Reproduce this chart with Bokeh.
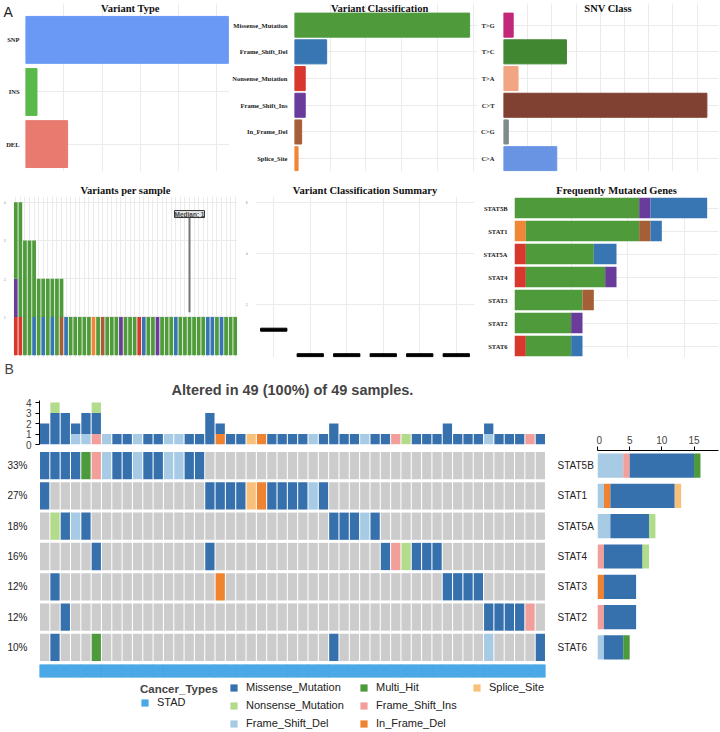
import numpy as np
from bokeh.plotting import figure
from bokeh.models import (Range1d, ColumnDataSource, FixedTicker, Grid, FactorRange,
                          SingleIntervalTicker, Label, Legend, LegendItem, LinearAxis, Title)
from bokeh.core.properties import value
from bokeh.layouts import row, column
from bokeh.embed import file_html
from bokeh.resources import INLINE

SERIF = "Liberation Serif"
SANS = "Liberation Sans"

# ---------------- Panel A data ----------------
vt_types = ["DEL", "INS", "SNP"]
vt_counts = [11, 3, 53]
vt_colors = ["#E87A70", "#5AB94B", "#6999F5"]

vc_classes = ["Splice_Site", "In_Frame_Del", "Frame_Shift_Ins",
              "Nonsense_Mutation", "Frame_Shift_Del", "Missense_Mutation"]
vc_counts = [1, 2, 3, 3, 9, 49]

snv_classes = ["C>A", "C>G", "C>T", "T>A", "T>C", "T>G"]
snv_counts = [11, 1, 42, 3, 13, 2]
snv_colors = ["#6994E4", "#7D8C8A", "#804132", "#F2A582", "#418732", "#C32878"]

A_COLORS = {"Missense_Mutation": "#4F9B3C", "Frame_Shift_Del": "#3776B2",
            "Nonsense_Mutation": "#D7372D", "Frame_Shift_Ins": "#693C9B",
            "In_Frame_Del": "#A55F37", "Splice_Site": "#F08737"}

# variants per sample (sorted samples), one list per class
vps_nonsense = [1,1,0,0,0,0,0,0,0,0, 0,0,0,0,0,0,0,0,0,0, 0,0,0,0,0,0,0,1,0,0,
                0,0,0,0,0,0,0,0,0,0, 0,0,0,0,0,0,0,0,0]
vps_frame_shift_ins = [1,0,0,0,0,0,0,0,0,0, 0,0,0,0,0,0,0,0,0,0, 0,0,0,1,0,0,0,0,0,0,
                       0,1,0,0,0,0,0,0,0,0, 0,0,0,0,0,0,0,0,0]
vps_frame_shift_del = [0,0,0,0,1,0,1,0,1,0, 0,1,0,0,0,0,0,0,0,0, 0,0,0,0,0,0,0,0,1,0,
                       0,0,0,0,0,1,0,0,0,0, 0,0,1,1,0,1,0,0,0]
vps_in_frame_del = [0,0,0,0,0,0,0,0,0,0, 1,0,0,0,0,0,0,0,0,1, 0,0,0,0,0,0,0,0,0,0,
                    0,0,0,0,0,0,0,0,0,0, 0,0,0,0,0,0,0,0,0]
vps_splice_site = [0,0,0,0,0,0,0,0,0,0, 0,0,0,0,0,0,0,1,0,0, 0,0,0,0,0,0,0,0,0,0,
                   0,0,0,0,0,0,0,0,0,0, 0,0,0,0,0,0,0,0,0]
vps_missense = [2,3,3,3,2,2,1,2,1,2, 1,0,1,1,1,1,1,0,1,0, 1,1,1,0,1,1,1,0,0,1,
                1,0,1,1,1,0,1,1,1,1, 1,1,0,0,1,0,1,1,1]

vcs_classes = ["Missense_Mutation", "Frame_Shift_Del", "Nonsense_Mutation",
               "Frame_Shift_Ins", "In_Frame_Del", "Splice_Site"]
vcs_medians = [1, 0, 0, 0, 0, 0]

fmg_genes = ["STAT5B", "STAT1", "STAT5A", "STAT4", "STAT3", "STAT2", "STAT6"]
fmg_splice_site = [0, 1, 0, 0, 0, 0, 0]
fmg_nonsense = [0, 0, 1, 1, 0, 0, 1]
fmg_missense = [11, 10, 6, 7, 6, 5, 4]
fmg_in_frame_del = [0, 1, 0, 0, 1, 0, 0]
fmg_frame_shift_ins = [1, 0, 0, 1, 0, 1, 0]
fmg_frame_shift_del = [5, 1, 2, 0, 0, 0, 1]

# ---------------- Panel B data ----------------
n_samples = 49
genes = ["STAT5B", "STAT1", "STAT5A", "STAT4", "STAT3", "STAT2", "STAT6"]
onco_STAT5B = [(1, "M"), (2, "M"), (3, "M"), (4, "M"), (5, "H"), (6, "I"), (7, "D"), (8, "M"),
               (9, "M"), (10, "D"), (11, "M"), (12, "M"), (13, "D"), (14, "D"), (15, "M"), (16, "M")]
onco_STAT1 = [(1, "M"), (17, "M"), (18, "M"), (19, "M"), (20, "M"), (21, "S"), (22, "F"),
              (23, "M"), (24, "M"), (25, "M"), (26, "M"), (27, "D"), (28, "M")]
onco_STAT5A = [(2, "N"), (3, "M"), (4, "D"), (5, "M"), (29, "M"), (30, "M"), (31, "M"),
               (32, "D"), (33, "M")]
onco_STAT4 = [(6, "M"), (17, "M"), (34, "M"), (35, "I"), (36, "N"), (37, "M"), (38, "M"), (39, "M")]
onco_STAT3 = [(2, "M"), (18, "F"), (40, "M"), (41, "M"), (42, "M"), (43, "M")]
onco_STAT2 = [(3, "M"), (44, "M"), (45, "M"), (46, "M"), (47, "M"), (48, "I")]
onco_STAT6 = [(2, "M"), (6, "H"), (29, "M"), (44, "D"), (49, "M")]
onco = {"STAT5B": onco_STAT5B, "STAT1": onco_STAT1, "STAT5A": onco_STAT5A,
        "STAT4": onco_STAT4, "STAT3": onco_STAT3, "STAT2": onco_STAT2, "STAT6": onco_STAT6}

# variants per sample (top bar), one list per class
tmb_frame_shift_del = [0,0,0,1,1,0,1,0,0,1, 0,0,1,1,0,0,0,0,0,0, 0,0,0,0,0,0,1,0,0,0,
                       0,1,0,0,0,0,0,0,0,0, 0,0,0,1,0,0,0,0,0]
tmb_frame_shift_ins = [0,0,0,0,0,1,0,0,0,0, 0,0,0,0,0,0,0,0,0,0, 0,0,0,0,0,0,0,0,0,0,
                       0,0,0,0,1,0,0,0,0,0, 0,0,0,0,0,0,0,1,0]
tmb_in_frame_del = [0,0,0,0,0,0,0,0,0,0, 0,0,0,0,0,0,0,1,0,0, 0,1,0,0,0,0,0,0,0,0,
                    0,0,0,0,0,0,0,0,0,0, 0,0,0,0,0,0,0,0,0]
tmb_missense = [2,3,3,1,2,2,0,1,1,0, 1,1,0,0,1,1,3,1,1,1, 0,0,1,1,1,1,0,1,2,1,
                1,0,1,1,0,0,1,1,1,2, 1,1,1,1,1,1,1,0,1]
tmb_nonsense = [0,1,0,0,0,1,0,0,0,0, 0,0,0,0,0,0,0,0,0,0, 0,0,0,0,0,0,0,0,0,0,
                0,0,0,0,0,1,0,0,0,0, 0,0,0,0,0,0,0,0,0]
tmb_splice_site = [0,0,0,0,0,0,0,0,0,0, 0,0,0,0,0,0,0,0,0,0, 1,0,0,0,0,0,0,0,0,0,
                   0,0,0,0,0,0,0,0,0,0, 0,0,0,0,0,0,0,0,0]

B_CODES = ["D", "I", "F", "M", "N", "S", "H"]
B_NAMES = {"M": "Missense_Mutation", "N": "Nonsense_Mutation", "D": "Frame_Shift_Del",
           "H": "Multi_Hit", "I": "Frame_Shift_Ins", "F": "In_Frame_Del", "S": "Splice_Site"}
B_COLORS = {"D": "#A7CBE4", "I": "#F29F9B", "F": "#F0832F", "M": "#3671AE",
            "N": "#B3DB8C", "S": "#F8C07B", "H": "#4C9A3C"}
GREY = "#CCCCCC"
STAD_COLOR = "#4AA8E6"
GRID = "#EBEBEB"


# ---------------- helpers ----------------
def mk(box, frame, **kw):
    x0, y0, x1, y1 = box
    fx0, fy0, fx1, fy1 = frame
    return figure(width=x1 - x0, height=y1 - y0,
                  min_border_left=fx0 - x0, min_border_right=x1 - fx1,
                  min_border_top=fy0 - y0, min_border_bottom=y1 - fy1,
                  output_backend="svg", toolbar_location=None, **kw)


def no_title(p):
    p.title.text = ""
    p.title.text_font_size = "0px"
    p.title.standoff = 0
    p.title.visible = False


def add_grid(p, dim, ticker):
    p.add_layout(Grid(dimension=dim, ticker=ticker, grid_line_color=GRID, grid_line_width=1))


def style_a(p, label_size="6.5px", title_size="10.5px"):
    p.outline_line_color = None
    p.grid.grid_line_color = GRID
    p.grid.grid_line_width = 1
    for ax in p.axis:
        ax.axis_line_color = None
        ax.major_tick_line_color = None
        ax.minor_tick_line_color = None
        ax.major_label_text_font = SERIF
        ax.major_label_text_font_style = "bold"
        ax.major_label_text_color = "#1A1A1A"
        ax.major_label_standoff = 2
        ax.major_label_text_font_size = label_size
    p.title.align = "center"
    p.title.text_font = SERIF
    p.title.text_font_style = "bold"
    p.title.text_font_size = title_size
    p.title.text_color = "#111111"
    p.title.standoff = 1


def panel_title(p, x, y, text):
    p.add_layout(Label(x=x, y=y, text=text, text_align="center", text_baseline="middle",
                       text_font=SERIF, text_font_style="bold", text_font_size="10.5px",
                       text_color="#111111"))


def cat_axis(p, labels):
    idx = list(range(len(labels)))
    p.yaxis.ticker = FixedTicker(ticks=idx)
    p.yaxis.major_label_overrides = {i: t for i, t in zip(idx, labels)}


# ---------------- Row A1 ----------------
vt_idx = list(range(len(vt_types)))
vt_yrange = Range1d(-0.526, 2.698)
# left strip: panel letter and the Variant Type category labels
fA = mk((0, 0, 25, 175), (0, 3, 25, 171), x_range=Range1d(0, 25), y_range=vt_yrange,
        x_axis_type=None, y_axis_type=None)
no_title(fA)
fA.outline_line_color = None
fA.text(x=[19] * len(vt_types), y=vt_idx, text=vt_types, text_align="right",
        text_baseline="middle", text_font=value(SERIF), text_font_style="bold",
        text_font_size="6.5px", text_color="#1A1A1A")
fA.add_layout(Label(x=3, y=2.698, text="A", text_align="left", text_baseline="top",
                    text_font=SANS, text_font_size="14px", text_color="#222222"))

fVT = mk((25, 0, 229, 175), (25, 3, 229, 171),
         x_range=Range1d(0, 53.3), y_range=vt_yrange,
         x_axis_type=None, y_axis_type=None)
add_grid(fVT, 0, SingleIntervalTicker(interval=10))
add_grid(fVT, 1, FixedTicker(ticks=vt_idx))
fVT.hbar(y="y", right="v", height=0.9, color="c",
         source=ColumnDataSource(dict(y=vt_idx, v=vt_counts, c=vt_colors)))
style_a(fVT)
no_title(fVT)
panel_title(fVT, 27.4, 2.60, "Variant Type")

vc_idx = list(range(len(vc_classes)))
fVC = mk((229, 0, 478, 175), (281, 3, 477, 171),
         x_range=Range1d(0, 51.2), y_range=Range1d(-0.48, 5.81), x_axis_type=None)
add_grid(fVC, 0, SingleIntervalTicker(interval=10))
fVC.hbar(y="y", right="v", height=0.9, color="c",
         source=ColumnDataSource(dict(y=vc_idx, v=vc_counts,
                                      c=[A_COLORS[k] for k in vc_classes])))
cat_axis(fVC, vc_classes)
style_a(fVC)
no_title(fVC)
fVC.yaxis.major_label_standoff = 1
panel_title(fVC, 23.8, 5.625, "Variant Classification")

snv_idx = list(range(len(snv_classes)))
fSNV = mk((478, 0, 719, 175), (503, 3, 718, 171),
          x_range=Range1d(0, 44.4), y_range=Range1d(-0.48, 5.81), x_axis_type=None)
add_grid(fSNV, 0, SingleIntervalTicker(interval=5))
fSNV.hbar(y="y", right="v", height=0.9, color="c",
          source=ColumnDataSource(dict(y=snv_idx, v=snv_counts, c=snv_colors)))
cat_axis(fSNV, snv_classes)
style_a(fSNV)
no_title(fSNV)
fSNV.yaxis.major_label_standoff = 3
panel_title(fSNV, 21.6, 5.625, "SNV Class")

# ---------------- Row A2 ----------------
samples = list(range(1, n_samples + 1))
fVPS = mk((0, 175, 242, 358), (12, 196, 237, 358), title="Variants per sample",
          x_range=Range1d(0.5, n_samples + 0.5), y_range=Range1d(-0.06, 4.15),
          x_axis_type=None)
vps_src = ColumnDataSource(dict(x=samples, N=vps_nonsense, I=vps_frame_shift_ins,
                                D=vps_frame_shift_del, F=vps_in_frame_del,
                                S=vps_splice_site, M=vps_missense))
vps_keys = ["N", "I", "D", "F", "S", "M"]
vps_cols = [A_COLORS[B_NAMES[k]] for k in vps_keys]
add_grid(fVPS, 0, FixedTicker(ticks=samples))
fVPS.vbar_stack(vps_keys, x="x", width=0.82, fill_color=vps_cols, line_color=None,
                source=vps_src)
fVPS.yaxis.ticker = FixedTicker(ticks=[1, 2, 3, 4])
style_a(fVPS)
fVPS.yaxis.major_label_text_font_size = "3px"
fVPS.yaxis.major_label_text_color = "#999999"
tot = np.array(vps_missense) + np.array(vps_nonsense) + np.array(vps_frame_shift_ins) + \
    np.array(vps_frame_shift_del) + np.array(vps_in_frame_del) + np.array(vps_splice_site)
med = float(np.median(tot))
fVPS.segment(x0=[39], y0=[med + 0.12], x1=[39], y1=[3.6], line_color="#777777", line_width=2)
fVPS.add_layout(Label(x=39, y=3.6, text="Median: %d" % med, text_align="center",
                      text_baseline="bottom", text_font=SANS, text_font_size="6.5px",
                      text_font_style="bold", background_fill_color="#E6E6E6",
                      border_line_color="#333333", border_line_width=1))

fVCS = mk((242, 175, 480, 358), (254, 196, 474, 358), title="Variant Classification Summary",
          x_range=Range1d(0.5, 6.5), y_range=Range1d(-0.09, 6.22), x_axis_type=None)
add_grid(fVCS, 0, FixedTicker(ticks=list(range(1, 7))))
fVCS.rect(x=list(range(1, 7)), y=vcs_medians, width=0.72, height=3, height_units="screen",
          color="black")
fVCS.yaxis.ticker = FixedTicker(ticks=[2, 4, 6])
style_a(fVCS)
fVCS.yaxis.major_label_text_font_size = "3px"
fVCS.yaxis.major_label_text_color = "#999999"

fFMG = mk((480, 175, 719, 358), (508, 195, 718, 357), title="Frequently Mutated Genes",
          x_range=Range1d(0, 18.0), y_range=FactorRange(factors=fmg_genes[::-1]),
          x_axis_type=None)
fmg_src = ColumnDataSource(dict(y=fmg_genes, S=fmg_splice_site, N=fmg_nonsense,
                                M=fmg_missense, F=fmg_in_frame_del,
                                I=fmg_frame_shift_ins, D=fmg_frame_shift_del))
fmg_keys = ["S", "N", "M", "F", "I", "D"]
add_grid(fFMG, 0, SingleIntervalTicker(interval=5))
fFMG.hbar_stack(fmg_keys, y="y", height=0.89,
                fill_color=[A_COLORS[B_NAMES[k]] for k in fmg_keys], line_color=None,
                source=fmg_src)
style_a(fFMG)
fFMG.yaxis.major_label_standoff = 1

# ---------------- Panel B ----------------
n_alt = len(set(s for g in genes for s, _ in onco[g]))
title_b = "Altered in %d (%d%%) of %d samples." % (n_alt, round(100 * n_alt / n_samples), n_samples)
fTop = mk((0, 358, 596, 450), (39, 398, 546, 444), title="B",
          x_range=Range1d(0.5, n_samples + 0.5), y_range=Range1d(0, 4.2), x_axis_type=None)
fTop.title.align = "left"
fTop.title.offset = -35
fTop.title.text_font = SANS
fTop.title.text_font_size = "14px"
fTop.title.text_font_style = "normal"
fTop.title.standoff = 0
fTop.add_layout(Title(text=title_b, align="center", text_font=SANS, text_font_size="14.5px",
                      text_font_style="bold", standoff=6), "above")
top_src = ColumnDataSource(dict(x=samples, D=tmb_frame_shift_del, I=tmb_frame_shift_ins,
                                F=tmb_in_frame_del, M=tmb_missense, N=tmb_nonsense,
                                S=tmb_splice_site))
top_keys = ["D", "I", "F", "M", "N", "S"]
fTop.vbar_stack(top_keys, x="x", width=0.9, fill_color=[B_COLORS[k] for k in top_keys],
                line_color=None, source=top_src)
fTop.outline_line_color = None
fTop.grid.visible = False
fTop.yaxis.ticker = FixedTicker(ticks=[0, 1, 2, 3, 4])
fTop.yaxis.axis_line_color = "black"
fTop.yaxis.major_tick_line_color = "black"
fTop.yaxis.major_tick_out = 4
fTop.yaxis.major_tick_in = 0
fTop.yaxis.minor_tick_line_color = None
fTop.yaxis.major_label_text_font = SANS
fTop.yaxis.major_label_text_font_size = "10px"
fTop.yaxis.major_label_standoff = 4

rows = [len(genes) - 1 - i for i in range(len(genes))]
fMat = mk((0, 450, 596, 662), (39, 450, 546, 662),
          x_range=Range1d(0.5, n_samples + 0.5), y_range=Range1d(-0.5, len(genes) - 0.5),
          x_axis_type=None)
mx, my, mc = [], [], []
for gi, g in enumerate(genes):
    muts = dict(onco[g])
    for s in samples:
        mx.append(s)
        my.append(rows[gi])
        mc.append(B_COLORS[muts[s]] if s in muts else GREY)
fMat.rect(x="x", y="y", width=0.9, height=0.9, fill_color="c", line_color=None,
          source=ColumnDataSource(dict(x=mx, y=my, c=mc)))
fMat.outline_line_color = None
fMat.grid.visible = False
pct = {rows[i]: "%d%%" % round(100 * len(onco[g]) / n_samples) for i, g in enumerate(genes)}
fMat.yaxis.ticker = FixedTicker(ticks=rows)
fMat.yaxis.major_label_overrides = pct
rax = LinearAxis(ticker=FixedTicker(ticks=rows),
                 major_label_overrides={rows[i]: g for i, g in enumerate(genes)})
fMat.add_layout(rax, "right")
for ax in (fMat.yaxis[0], rax):
    ax.axis_line_color = None
    ax.major_tick_line_color = None
    ax.minor_tick_line_color = None
    ax.major_label_text_font = SANS
    ax.major_label_text_font_size = "10px"
    ax.major_label_text_color = "#222222"
    ax.major_label_standoff = 6

fCan = mk((0, 662, 596, 679), (39, 664, 546, 677),
          x_range=Range1d(0.5, n_samples + 0.5), y_range=Range1d(0, 1),
          x_axis_type=None, y_axis_type=None)
fCan.rect(x=samples, y=[0.5] * n_samples, width=1, height=1, color=STAD_COLOR)
fCan.outline_line_color = None

# right bar: counts per gene per class from the matrix
rb = {k: [sum(1 for _, c in onco[g] if c == k) for g in genes] for k in B_CODES}
rb_src = ColumnDataSource(dict(y=rows, **rb))
fRight = mk((596, 358, 719, 679), (597, 450, 718, 662),
            x_range=Range1d(0, 18.8), y_range=Range1d(-0.5, len(genes) - 0.5),
            x_axis_location="above", y_axis_type=None)
fRight.hbar_stack(B_CODES, y="y", height=0.8, fill_color=[B_COLORS[k] for k in B_CODES],
                  line_color=None, source=rb_src)
fRight.outline_line_color = None
fRight.grid.visible = False
fRight.xaxis.ticker = FixedTicker(ticks=[0, 5, 10, 15])
fRight.xaxis.axis_line_color = "black"
fRight.xaxis.major_tick_line_color = "black"
fRight.xaxis.major_tick_out = 4
fRight.xaxis.major_tick_in = 0
fRight.xaxis.minor_tick_line_color = None
fRight.xaxis.major_label_text_font = SANS
fRight.xaxis.major_label_text_font_size = "10px"
fRight.xaxis.major_label_standoff = 3

# legend
fLeg = mk((0, 679, 719, 730), (0, 679, 719, 730), x_axis_type=None, y_axis_type=None,
          x_range=Range1d(0, 1), y_range=Range1d(0, 1))
fLeg.outline_line_color = None


def leg_item(p, label, color):
    # swatch renderer kept outside the visible range; only its legend glyph shows
    r = p.rect(x=[-5], y=[-5], width=1, height=1, fill_color=color, line_color=None)
    return LegendItem(label=label, renderers=[r])


def add_leg(p, items, x, y, **kw):
    lg = Legend(items=items, location=(x, y), border_line_color=None,
                background_fill_alpha=0, padding=0, margin=0, spacing=4,
                glyph_width=9, glyph_height=9, label_standoff=8,
                label_text_font=SANS, label_text_font_size="11px",
                label_text_color="#222222", label_height=14, **kw)
    p.add_layout(lg, "center")


leg_h = 730 - 679
col_groups = [["M", "N", "D"], ["H", "I", "F"], ["S"]]
col_x = [229, 359, 472]
for grp, cx in zip(col_groups, col_x):
    items = [leg_item(fLeg, B_NAMES[k], B_COLORS[k]) for k in grp]
    h = len(items) * 14 + (len(items) - 1) * 4
    add_leg(fLeg, items, cx, leg_h - 1 - h)
add_leg(fLeg, [leg_item(fLeg, "STAD", STAD_COLOR)], 140, leg_h - 1 - 29,
        title="Cancer_Types", title_text_font=SANS, title_text_font_size="11.5px",
        title_text_font_style="bold", title_standoff=0)

layout = column(row(fA, fVT, fVC, fSNV),
                row(fVPS, fVCS, fFMG),
                row(column(fTop, fMat, fCan), fRight),
                fLeg)

open("out.html", "w").write(file_html(layout, INLINE))
